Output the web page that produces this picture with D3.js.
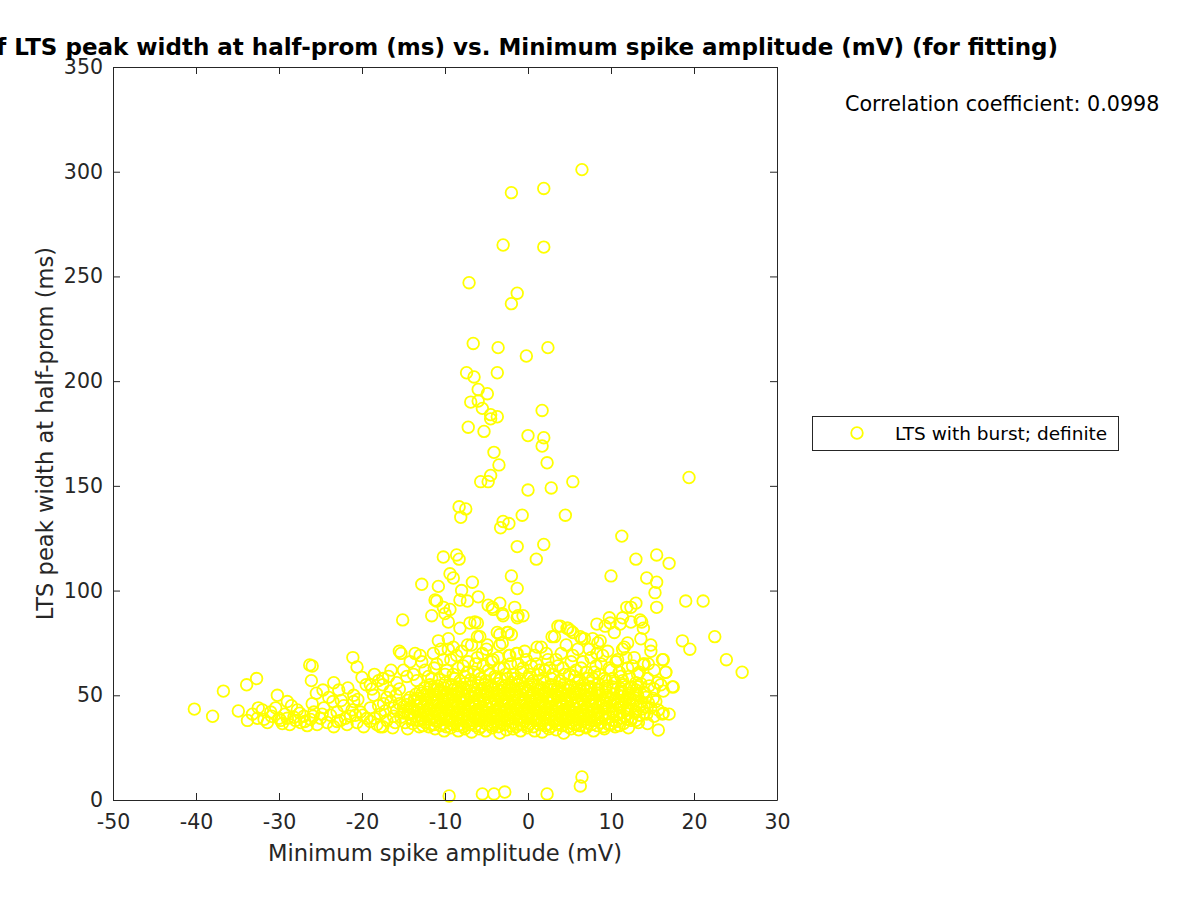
<!DOCTYPE html>
<html><head><meta charset="utf-8">
<script src="https://cdn.jsdelivr.net/npm/d3@7"></script>
<style>body{margin:0;background:#fff;} svg{display:block;}</style>
</head><body>
<svg id="chart" width="1200" height="900"></svg>
<script>
const titleText = "Scatter plot of LTS peak width at half-prom (ms) vs. Minimum spike amplitude (mV) (for fitting)";
const xLabel = "Minimum spike amplitude (mV)";
const yLabel = "LTS peak width at half-prom (ms)";
const legendLabel = "LTS with burst; definite";
const corrText = "Correlation coefficient: 0.0998";
const xTicks = [-50,-40,-30,-20,-10,0,10,20,30];
const yTicks = [0,50,100,150,200,250,300,350];

// outliers high
const highPoints = [[6.5,301],[-2.0,290],[1.9,292],[-3.0,265],[1.9,264],[-7.1,247],[-1.3,242],[-2.0,237],
[-6.6,218],[-3.6,216],[2.4,216],[-0.2,212],[-7.4,204],[-6.5,202],[-3.7,204],[-6.0,196],[-4.9,194],[-6.9,190],[-6.0,190.5],
[-5.5,187],[-4.5,184],[-3.7,183],[-4.5,182],[1.7,186],[-7.2,178],[-5.3,176],[0.0,174],[1.9,173],[1.7,169],[-4.1,166],
[-3.5,160],[2.3,161],[-4.5,155],[-5.7,152],[-4.8,152],[0.0,148],[2.8,149],[5.4,152],[-8.3,140],[-7.5,139],[-8.1,135],
[-0.7,136],[4.5,136],[-3.0,133],[-2.3,132],[-3.3,130],[11.3,126],[19.4,154],[-1.3,121],[1.9,122],[1.0,115],[-10.2,116],
[-8.6,117],[-8.3,115],[13.0,115],[15.5,117],[17.0,113],[10.0,107],[-2.0,107]];
// bottom outliers
const lowPoints = [[-9.5,1.9],[-5.5,2.9],[-4.1,2.9],[-2.8,3.8],[2.3,2.9],[6.3,6.7],[6.5,11]];
// mid scatter (60-105 ms)
const midPoints = [[-1.3,101],[-12.8,103],[-9.4,108],[-9.0,106],[-6.7,104],[-8.0,100],[-10.8,102],[-11.0,95],[-6.0,97],
[-4.8,93],[-3.4,94],[-1.6,92],[-0.6,88],[-15.1,86],[-11.6,88],[-9.4,91],[-7.3,95],[-6.4,85],[-4.2,91],[-3.0,88],[-1.3,87],
[-10.8,76],[-8.2,82],[-6.1,78],[-3.4,79],[-2.5,80],[-4.9,74],[1.1,73],[2.9,78],[3.6,83],[4.7,82],[5.4,80],[6.5,77],[8.3,84],
[14.3,106],[15.5,104],[15.3,99],[15.5,92],[19.0,95],[21.1,95],[13.0,94],[12.4,92],[9.8,87],[9.3,83],[13.7,85],[13.9,82],
[11.4,87],[11.1,84],[22.5,78],[18.6,76],[19.5,72],[14.8,74],[23.9,67],[25.8,61],[16.3,67],[16.6,61],[13.9,65],[14.5,65],
[6.3,78],[7.8,77],[8.7,76],[12.0,75],[11.4,72],[8.3,70],[17.5,54],[-11.2,95.5],[-10.2,92],[-8.2,95.5],[-4.3,92],[-3.1,89],
[-1.2,88],[-9.6,85],[-7.0,84.5],[-6.1,84.5],[-9.6,72],[-9.0,73],[-7.3,74],[-5.8,78],[-3.7,80],[-2.4,80],[-3.4,74],[-2.2,69],
[-1.3,70],[3.9,83],[5.1,81],[9.9,84.5],[11.9,92],[13.5,86],[13.9,64.5],[15.7,33.4],[16.3,41.5],[-10.0,89],[-11.4,70],
[-15.5,71],[-13.6,70],[-26.3,64.5],[-26.0,64],[-21.1,68],[-20.6,63.5],[-26.1,57],[-24.7,52.5],[-23.4,56],[-21.7,53.5]];
// left tail
const leftPoints = [[-40.2,43.4],[-38.0,40],[-36.7,52],[-33.9,55],[-32.7,58],[-34.9,42.5],[-30.2,50],
[-33.8,38],[-33.2,41],[-32.6,39],[-32.0,43],[-31.4,37],[-30.9,40],[-30.4,44],[-29.8,38],[-29.3,41],[-29.0,47],[-28.7,36],
[-28.2,39.5],[-27.8,43],[-27.4,37],[-27.0,40],[-26.6,35.5],[-26.2,38.5],[-25.8,42],[-25.4,36],[-25.0,39],[-24.6,44],[-24.2,37],
[-23.8,40.5],[-23.4,35],[-23.0,42],[-22.6,38],[-22.2,45],[-21.8,36],[-21.4,40],[-21.0,47],[-20.6,37],[-20.2,42],[-19.8,35],
[-19.4,39],[-19.0,44],[-18.6,50],[-18.2,36],[-17.8,41],[-17.4,46],[-17.0,38],[-16.6,52],[-16.2,44],[-31.0,42],[-28.5,45],
[-26.0,46],[-23.5,47],[-21.0,50],[-19.5,55],[-18.0,57],[-17.0,49],[-24.0,49],[-27.5,41.5],[-32.5,44],[-29.6,36.5],[-22.8,52.5],
[-20.0,58.5],[-25.5,51],[-18.8,53],[-16.8,59],[-15.9,50],[-30.0,39],[-28.0,38],[-25.9,40],[-22.0,39],[-20.8,40.5],[-19.0,37.5],
[-17.5,35],[-16.0,37],[-31.8,38.5],[-29.0,39],[-26.9,37.5],[-24.8,41],[-23.0,37.5],[-21.2,43],[-19.9,40.5],[-18.5,39],
[-17.2,42.5],[-16.5,47],[-20.5,48],[-22.5,47.5],[-18.0,45],[-15.5,53],[-17.5,55]];
// upper part of core (57-80 ms)
const upperCorePoints = [[-15.3,70],[-14.2,66],[-13.8,60],[-13.0,69],[-12.4,62],[-11.6,58],[-11.0,65],[-10.5,72],[-10.0,60],
[-9.6,77],[-9.3,67],[-8.8,58],[-8.4,63],[-8.0,71],[-7.6,59],[-7.2,66],[-6.8,74],[-6.5,61],[-6.1,68],[-5.7,58],[-5.4,64],[-5.0,72],
[-4.6,60],[-4.2,67],[-3.8,58],[-3.5,63],[-3.1,75],[-2.7,60],[-2.3,69],[-2.0,79],[-1.6,58],[-1.2,65],[-0.8,61],[-0.4,71],[0.0,58],
[0.4,64],[0.8,69],[1.2,60],[1.6,73],[2.0,62],[2.4,67],[2.8,58],[3.2,78],[3.6,64],[4.0,70],[4.4,60],[4.8,82],[5.2,66],[5.6,59],
[6.0,72],[6.4,63],[6.8,77],[7.2,58],[7.6,68],[8.0,61],[8.4,75],[8.8,65],[9.2,58],[9.6,71],[10.0,62],[10.4,80],[10.8,67],[11.2,59],
[11.6,73],[12.0,63],[12.4,85],[12.8,68],[13.2,60],[13.6,77],[14.0,65],[14.4,58],[14.8,71],[15.2,62],[15.6,56],[16.2,67],[16.6,61],
[-17.5,58],[-18.5,60],[-19.0,55],[-16.5,62],[-15.8,56],
[-12.0,59],[-11.3,63],[-10.7,57.5],[-10.2,67],[-9.8,62],[-9.0,60],[-8.6,69],[-8.2,57],[-7.8,64],[-7.3,61],[-6.9,57.5],[-6.3,65],
[-5.9,60],[-5.5,70],[-5.1,57],[-4.8,62],[-4.4,66],[-4.0,59],[-3.6,68],[-3.3,57.5],[-2.9,63],[-2.5,58],[-2.1,65],[-1.8,60],
[-1.4,70],[-1.0,57],[-0.6,63],[-0.2,67],[0.2,60],[0.6,57],[1.0,65],[1.4,62],[1.8,58],[2.2,70],[2.6,63],[3.0,60],[3.4,67],[3.8,57],
[4.2,63],[4.6,74],[5.0,60],[5.4,69],[5.8,62],[6.2,57.5],[6.6,66],[7.0,61],[7.4,72],[7.8,58],[8.2,64],[8.6,60],[9.0,69],[9.4,57],
[9.8,63],[10.2,58],[10.6,66],[11.0,61],[11.4,57],[11.8,68],[12.2,59],[12.6,64],[13.0,56],[13.4,61],[-13.4,57],[-14.6,59],
[-12.8,66],[-15.0,62]];
// dense core (33-56 ms)
const corePoints = [
[-11.2,34],[-10.1,33],[-9.3,34.5],[-8.4,33],[-7.6,34],[-6.8,32.5],[-5.9,34],[-5.1,33],[-4.3,34.5],[-3.4,32],[-2.6,33.5],[-1.8,34],
[-0.9,33],[-0.1,34.5],[0.8,33],[1.7,32.5],[2.5,34],[3.4,33.5],[4.3,32],[5.2,34],[6.1,33.5],[7.0,34.5],[7.9,33],[9.2,34],[10.5,35],
[12.1,34.5],[-13.1,35],[-14.5,34],[-16.3,34.5],[-17.8,35],
[-14.8,37],[-13.9,36.5],[-13.1,38],[-12.4,37],[-11.6,36],[-10.9,37.5],[-10.2,36.5],[-9.5,38],[-8.8,37],[-8.1,36],[-7.4,37.5],
[-6.7,36.5],[-6.0,38],[-5.3,37],[-4.6,36],[-3.9,37.5],[-3.2,36.5],[-2.5,38],[-1.8,37],[-1.1,36],[-0.4,37.5],[0.3,36.5],[1.0,38],
[1.7,37],[2.4,36],[3.1,37.5],[3.8,36.5],[4.5,38],[5.2,37],[5.9,36],[6.6,37.5],[7.3,36.5],[8.0,38],[8.8,37],[9.7,36],[10.6,37.5],
[11.5,36.5],[12.4,38],[13.3,37],[14.4,36.5],
[-16.2,40],[-15.3,39.5],[-14.4,41],[-13.6,40],[-12.9,39],[-12.2,40.5],[-11.5,39.5],[-10.8,41],[-10.1,40],[-9.4,39],[-8.7,40.5],
[-8.0,39.5],[-7.3,41],[-6.6,40],[-5.9,39],[-5.2,40.5],[-4.5,39.5],[-3.8,41],[-3.1,40],[-2.4,39],[-1.7,40.5],[-1.0,39.5],[-0.3,41],
[0.4,40],[1.1,39],[1.8,40.5],[2.5,39.5],[3.2,41],[3.9,40],[4.6,39],[5.3,40.5],[6.0,39.5],[6.7,41],[7.4,40],[8.1,39],[8.9,40.5],
[9.8,39.5],[10.7,41],[11.6,40],[12.5,39],[13.4,40.5],[14.3,41],[15.2,40],[16.2,41],[17.0,41],
[-15.8,43],[-14.9,42.5],[-14.0,44],[-13.2,43],[-12.5,42],[-11.8,43.5],[-11.1,42.5],[-10.4,44],[-9.7,43],[-9.0,42],[-8.3,43.5],
[-7.6,42.5],[-6.9,44],[-6.2,43],[-5.5,42],[-4.8,43.5],[-4.1,42.5],[-3.4,44],[-2.7,43],[-2.0,42],[-1.3,43.5],[-0.6,42.5],[0.1,44],
[0.8,43],[1.5,42],[2.2,43.5],[2.9,42.5],[3.6,44],[4.3,43],[5.0,42],[5.7,43.5],[6.4,42.5],[7.1,44],[7.8,43],[8.5,42],[9.3,43.5],
[10.2,42.5],[11.1,44],[12.0,43],[12.9,42],[13.8,43.5],[14.8,44],[15.7,43],
[-15.5,46],[-14.6,45.5],[-13.7,47],[-12.9,46],[-12.1,45],[-11.4,46.5],[-10.7,45.5],[-10.0,47],[-9.3,46],[-8.6,45],[-7.9,46.5],
[-7.2,45.5],[-6.5,47],[-5.8,46],[-5.1,45],[-4.4,46.5],[-3.7,45.5],[-3.0,47],[-2.3,46],[-1.6,45],[-0.9,46.5],[-0.2,45.5],[0.5,47],
[1.2,46],[1.9,45],[2.6,46.5],[3.3,45.5],[4.0,47],[4.7,46],[5.4,45],[6.1,46.5],[6.8,45.5],[7.5,47],[8.2,46],[9.0,45],[9.9,46.5],
[10.8,45.5],[11.7,47],[12.6,46],[13.5,45],[14.5,46.5],[15.4,47],
[-14.2,49],[-13.3,48.5],[-12.5,50],[-11.7,49],[-11.0,48],[-10.3,49.5],[-9.6,48.5],[-8.9,50],[-8.2,49],[-7.5,48],[-6.8,49.5],
[-6.1,48.5],[-5.4,50],[-4.7,49],[-4.0,48],[-3.3,49.5],[-2.6,48.5],[-1.9,50],[-1.2,49],[-0.5,48],[0.2,49.5],[0.9,48.5],[1.6,50],
[2.3,49],[3.0,48],[3.7,49.5],[4.4,48.5],[5.1,50],[5.8,49],[6.5,48],[7.2,49.5],[7.9,48.5],[8.7,50],[9.6,49],[10.5,48],[11.4,49.5],
[12.3,48.5],[13.2,50],[14.2,49],[15.1,48.5],
[-13.0,52],[-12.1,51.5],[-11.3,53],[-10.5,52],[-9.8,51],[-9.1,52.5],[-8.4,51.5],[-7.7,53],[-7.0,52],[-6.3,51],[-5.6,52.5],
[-4.9,51.5],[-4.2,53],[-3.5,52],[-2.8,51],[-2.1,52.5],[-1.4,51.5],[-0.7,53],[0.0,52],[0.7,51],[1.4,52.5],[2.1,51.5],[2.8,53],
[3.5,52],[4.2,51],[4.9,52.5],[5.6,51.5],[6.3,53],[7.0,52],[7.7,51],[8.5,52.5],[9.4,51.5],[10.3,53],[11.2,52],[12.1,51],[13.0,52.5],
[14.0,51.5],[15.2,53],[16.3,52],[17.4,54],
[-11.8,55],[-10.9,54.5],[-10.0,56],[-9.2,55],[-8.4,54],[-7.6,55.5],[-6.8,54.5],[-6.0,56],[-5.2,55],[-4.4,54],[-3.6,55.5],
[-2.8,54.5],[-2.0,56],[-1.2,55],[-0.4,54],[0.4,55.5],[1.2,54.5],[2.0,56],[2.8,55],[3.6,54],[4.4,55.5],[5.2,54.5],[6.0,56],
[6.8,55],[7.6,54],[8.5,55.5],[9.5,54.5],[10.5,56],[11.5,55],[12.5,54],[13.6,55.5],[14.6,54.5],[16.0,55]];
// interleaved second layer of the dense core
const coreFillPoints = [
[-12.65,35.5],[-11.95,35],[-11.25,36],[-10.55,35.5],[-9.85,35],[-9.15,36],[-8.45,35.5],[-7.75,35],[-7.05,36],[-6.35,35.5],
[-5.65,35],[-4.95,36],[-4.25,35.5],[-3.55,35],[-2.85,36],[-2.15,35.5],[-1.45,35],[-0.75,36],[-0.05,35.5],[0.65,35],[1.35,36],
[2.05,35.5],[2.75,35],[3.45,36],[4.15,35.5],[4.85,35],[5.55,36],[6.25,35.5],[6.95,35],[7.65,36],[8.35,35.5],[9.1,35],[10.0,36],
[11.0,35.5],
[-14.05,38.5],[-13.35,38],[-12.65,39],[-11.95,38.5],[-11.25,38],[-10.55,39],[-9.85,38.5],[-9.15,38],[-8.45,39],[-7.75,38.5],
[-7.05,38],[-6.35,39],[-5.65,38.5],[-4.95,38],[-4.25,39],[-3.55,38.5],[-2.85,38],[-2.15,39],[-1.45,38.5],[-0.75,38],[-0.05,39],
[0.65,38.5],[1.35,38],[2.05,39],[2.75,38.5],[3.45,38],[4.15,39],[4.85,38.5],[5.55,38],[6.25,39],[6.95,38.5],[7.65,38],[8.4,39],
[9.3,38.5],[10.2,38],[11.1,39],[12.0,38.5],[13.0,38],
[-15.0,41.5],[-14.2,41],[-13.35,42],[-12.65,41.5],[-11.95,41],[-11.25,42],[-10.55,41.5],[-9.85,41],[-9.15,42],[-8.45,41.5],
[-7.75,41],[-7.05,42],[-6.35,41.5],[-5.65,41],[-4.95,42],[-4.25,41.5],[-3.55,41],[-2.85,42],[-2.15,41.5],[-1.45,41],[-0.75,42],
[-0.05,41.5],[0.65,41],[1.35,42],[2.05,41.5],[2.75,41],[3.45,42],[4.15,41.5],[4.85,41],[5.55,42],[6.25,41.5],[6.95,41],[7.65,42],
[8.4,41.5],[9.3,41],[10.2,42],[11.1,41.5],[12.0,41],[13.0,42],[14.0,41.5],
[-15.0,44.5],[-14.2,44],[-13.35,45],[-12.65,44.5],[-11.95,44],[-11.25,45],[-10.55,44.5],[-9.85,44],[-9.15,45],[-8.45,44.5],
[-7.75,44],[-7.05,45],[-6.35,44.5],[-5.65,44],[-4.95,45],[-4.25,44.5],[-3.55,44],[-2.85,45],[-2.15,44.5],[-1.45,44],[-0.75,45],
[-0.05,44.5],[0.65,44],[1.35,45],[2.05,44.5],[2.75,44],[3.45,45],[4.15,44.5],[4.85,44],[5.55,45],[6.25,44.5],[6.95,44],[7.65,45],
[8.4,44.5],[9.3,44],[10.2,45],[11.1,44.5],[12.0,44],[13.0,45],[14.0,44.5],
[-14.5,47.5],[-13.7,48],[-12.95,47],[-12.25,47.5],[-11.55,48],[-10.85,47],[-10.15,47.5],[-9.45,48],[-8.75,47],[-8.05,47.5],
[-7.35,48],[-6.65,47],[-5.95,47.5],[-5.25,48],[-4.55,47],[-3.85,47.5],[-3.15,48],[-2.45,47],[-1.75,47.5],[-1.05,48],[-0.35,47],
[0.35,47.5],[1.05,48],[1.75,47],[2.45,47.5],[3.15,48],[3.85,47],[4.55,47.5],[5.25,48],[5.95,47],[6.65,47.5],[7.35,48],[8.1,47],
[9.0,47.5],[9.9,48],[10.8,47],[11.7,47.5],[12.6,48],[13.6,47],
[-13.5,50.5],[-12.75,51],[-12.05,50],[-11.35,50.5],[-10.65,51],[-9.95,50],[-9.25,50.5],[-8.55,51],[-7.85,50],[-7.15,50.5],
[-6.45,51],[-5.75,50],[-5.05,50.5],[-4.35,51],[-3.65,50],[-2.95,50.5],[-2.25,51],[-1.55,50],[-0.85,50.5],[-0.15,51],[0.55,50],
[1.25,50.5],[1.95,51],[2.65,50],[3.35,50.5],[4.05,51],[4.75,50],[5.45,50.5],[6.15,51],[6.85,50],[7.6,50.5],[8.5,51],[9.4,50],
[10.3,50.5],[11.2,51],[12.1,50],[13.0,50.5],[14.0,51],
[-12.5,53.5],[-11.7,54],[-10.9,53],[-10.1,53.5],[-9.3,54],[-8.5,53],[-7.7,53.5],[-6.9,54],[-6.1,53],[-5.3,53.5],[-4.5,54],
[-3.7,53],[-2.9,53.5],[-2.1,54],[-1.3,53],[-0.5,53.5],[0.3,54],[1.1,53],[1.9,53.5],[2.7,54],[3.5,53],[4.3,53.5],[5.1,54],
[5.9,53],[6.7,53.5],[7.5,54],[8.4,53],[9.3,53.5],[10.2,54],[11.2,53],[12.2,53.5],[13.2,54]];

const allPoints = [].concat(leftPoints, corePoints, coreFillPoints, upperCorePoints, midPoints, highPoints, lowPoints);

const svg = d3.select("#chart");
const m = {left:113, right:777, top:67, bottom:800};
const x = d3.scaleLinear().domain([-50,30]).range([m.left, m.right]);
const y = d3.scaleLinear().domain([0,350]).range([m.bottom, m.top]);
const axisColor = "#262626";
const markerColor = "#ffff00";
const tickLen = 7;
const font = "DejaVu Sans";

// points
svg.append("g").selectAll("circle").data(allPoints).join("circle")
  .attr("cx", d => x(d[0])).attr("cy", d => y(d[1])).attr("r", 5.8)
  .attr("fill", "none").attr("stroke", markerColor).attr("stroke-width", 1.8);

// axes
const fmt = d => String(d);
const gx = svg.append("g").attr("transform", `translate(0,${m.bottom})`)
  .call(d3.axisBottom(x).tickValues(xTicks).tickFormat(fmt).tickSizeInner(-tickLen).tickSizeOuter(0).tickPadding(14));
const gy = svg.append("g").attr("transform", `translate(${m.left},0)`)
  .call(d3.axisLeft(y).tickValues(yTicks).tickFormat(fmt).tickSizeInner(-tickLen).tickSizeOuter(0).tickPadding(10));
const gxt = svg.append("g").attr("transform", `translate(0,${m.top})`)
  .call(d3.axisTop(x).tickValues(xTicks).tickSizeInner(-tickLen).tickSizeOuter(0).tickFormat(""));
const gyr = svg.append("g").attr("transform", `translate(${m.right},0)`)
  .call(d3.axisRight(y).tickValues(yTicks).tickSizeInner(-tickLen).tickSizeOuter(0).tickFormat(""));
[gx,gy,gxt,gyr].forEach(g => {
  g.select(".domain").attr("stroke", axisColor).attr("stroke-width", 1);
  g.selectAll(".tick line").attr("stroke", axisColor);
  g.selectAll("text").attr("fill", axisColor).style("font-family",font).style("font-size","20.5px");
});

// axis labels
svg.append("text").attr("x", (m.left+m.right)/2).attr("y", 861).attr("text-anchor","middle")
  .attr("fill", axisColor).style("font-family",font).style("font-size","22.6px").text(xLabel);
svg.append("text").attr("transform", `translate(53,${(m.top+m.bottom)/2}) rotate(-90)`).attr("text-anchor","middle")
  .attr("fill", axisColor).style("font-family",font).style("font-size","22.6px").text(yLabel);

// title
svg.append("text").attr("x", 1058).attr("y", 55).attr("text-anchor","end")
  .attr("fill", "#000").style("font-family",font).style("font-weight","bold").style("font-size","23px").text(titleText);

// correlation
svg.append("text").attr("x", 845).attr("y", 111).attr("fill","#000")
  .style("font-family",font).style("font-size","20.7px").text(corrText);

// legend
const lg = svg.append("g");
lg.append("rect").attr("x", 812.5).attr("y", 416.5).attr("width", 306).attr("height", 34)
  .attr("fill","#fff").attr("stroke", axisColor).attr("stroke-width",1);
lg.append("circle").attr("cx", 857).attr("cy", 433).attr("r", 5.8)
  .attr("fill","none").attr("stroke", markerColor).attr("stroke-width",1.8);
lg.append("text").attr("x", 895).attr("y", 440).attr("fill","#000")
  .style("font-family",font).style("font-size","18.5px").text(legendLabel);
</script>
</body></html>
